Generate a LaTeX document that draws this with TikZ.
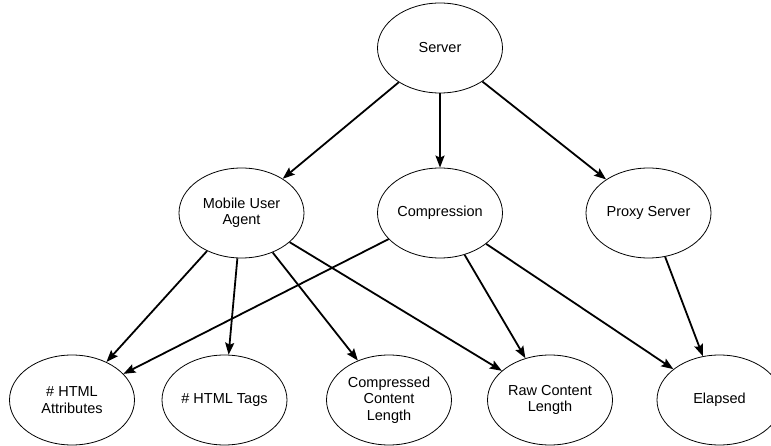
\documentclass[tikz,border=0pt]{standalone}
\usepackage{fontspec}
\setmainfont{Liberation Sans}
\usetikzlibrary{shapes.geometric,arrows.meta}

\begin{document}
\begin{tikzpicture}[x=1pt,y=-1pt,
    var/.style={ellipse,draw,line width=0.8pt,minimum width=125pt,minimum height=90pt,
      inner sep=0pt,align=center,font=\fontsize{14.5}{16.5}\selectfont},
    dep/.style={line width=1.8pt,-{Stealth[length=12pt,width=9pt,inset=2pt]}}]
    \useasboundingbox (0,0) rectangle (771,446);
    %
    \node[var] (server) at (440,48) {Server};
    \node[var] (mobile) at (241.5,213) {Mobile User\\Agent};
    \node[var] (compr) at (440,213) {Compression};
    \node[var] (proxy) at (648.5,213) {Proxy Server};
    %
    \node[var] (attrs) at (72,400) {\# HTML\\Attributes};
    \node[var] (tags) at (224.5,400) {\# HTML Tags};
    \node[var] (clen) at (389,400) {Compressed\\Content\\Length};
    \node[var] (rlen) at (550,400) {Raw Content\\Length};
    \node[var] (elapsed) at (719.5,400) {Elapsed};
    %
    \draw[dep] (server) -- (mobile);
    \draw[dep] (server) -- (compr);
    \draw[dep] (server) -- (proxy);
    %
    \draw[dep] (mobile) -- (attrs);
    \draw[dep] (mobile) -- (tags);
    \draw[dep] (mobile) -- (clen);
    \draw[dep] (mobile) -- (rlen);
    %
    \draw[dep] (compr) -- (attrs);
    \draw[dep] (compr) -- (rlen);
    \draw[dep] (compr) -- (elapsed);
    %
    \draw[dep] (proxy) -- (elapsed);
\end{tikzpicture}
\end{document}
